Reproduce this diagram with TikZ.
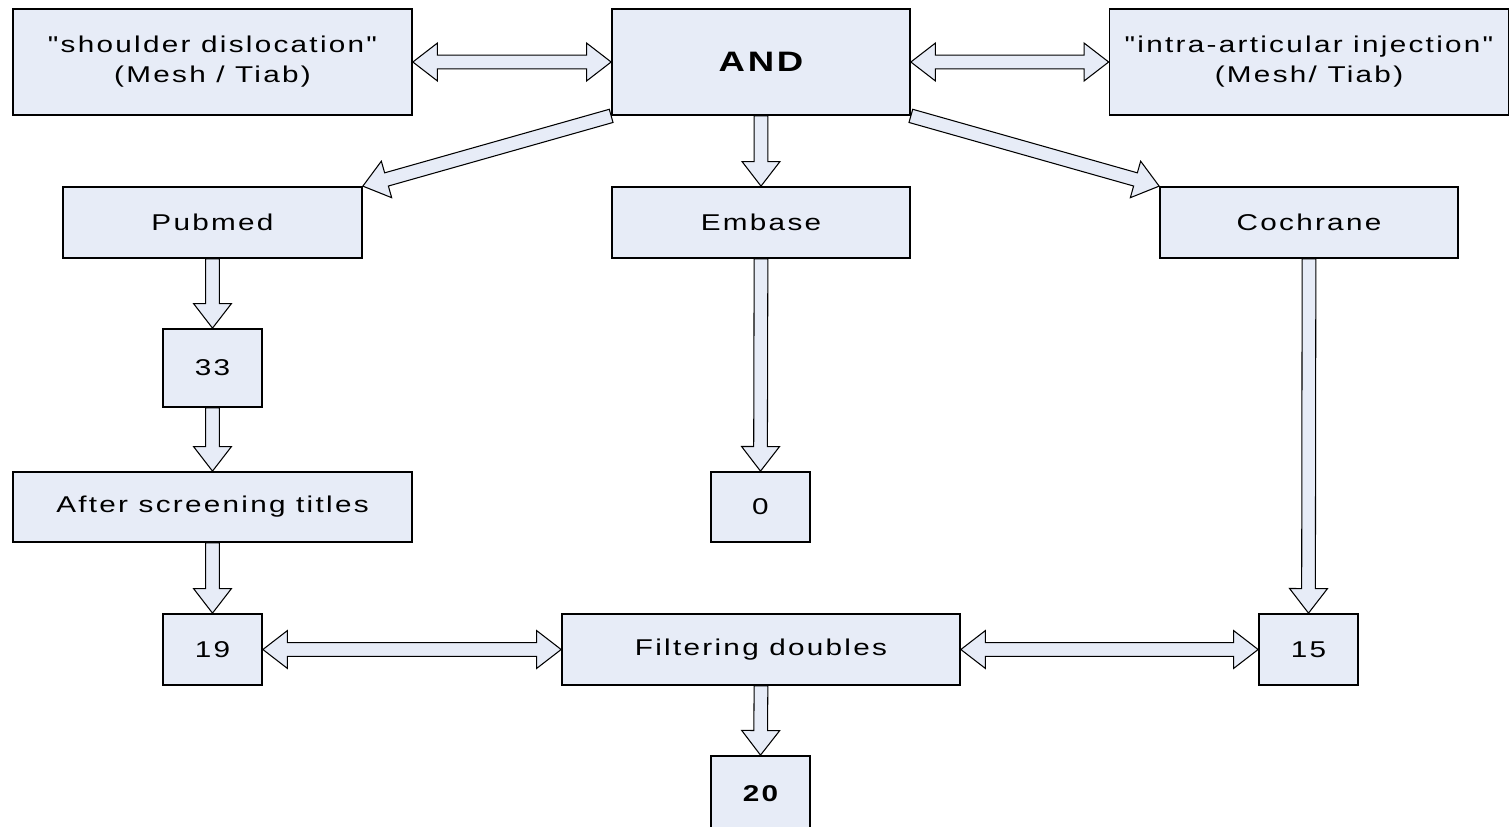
\documentclass[tikz,border=0pt]{standalone}
\usepackage{fontspec}
\setmainfont{Liberation Sans}[FakeStretch=1.3,LetterSpace=10,Ligatures=TeXOff]
\usetikzlibrary{calc,backgrounds}
\definecolor{boxfill}{RGB}{231,236,247}

\newcommand{\shaftw}{3.9pt}
\newcommand{\headw}{10.8pt}
\newcommand{\headl}{14pt}

% hollow block arrow from #1 to #2
\newcommand{\hollowarrow}[2]{%
  \coordinate (ha) at (#1);
  \coordinate (hb) at (#2);
  \coordinate (hh) at ($(hb)!\headl!(ha)$);
  \draw[arrowbody] ($(ha)!\shaftw!90:(hb)$) -- ($(hh)!\shaftw!90:(hb)$)
    -- ($(hh)!\headw!90:(hb)$) -- (hb) -- ($(hh)!\headw!-90:(hb)$)
    -- ($(hh)!\shaftw!-90:(hb)$) -- ($(ha)!\shaftw!-90:(hb)$) -- cycle;
}
% hollow block arrow with heads at both ends
\newcommand{\hollowboth}[2]{%
  \coordinate (ha) at (#1);
  \coordinate (hb) at (#2);
  \coordinate (hg) at ($(ha)!\headl!(hb)$);
  \coordinate (hh) at ($(hb)!\headl!(ha)$);
  \draw[arrowbody] (ha) -- ($(hg)!\headw!90:(hb)$) -- ($(hg)!\shaftw!90:(hb)$)
    -- ($(hh)!\shaftw!90:(hb)$) -- ($(hh)!\headw!90:(hb)$) -- (hb)
    -- ($(hh)!\headw!-90:(hb)$) -- ($(hh)!\shaftw!-90:(hb)$)
    -- ($(hg)!\shaftw!-90:(hb)$) -- ($(hg)!\headw!-90:(hb)$) -- cycle;
}

\tikzset{
  box/.style={draw, line width=1pt, fill=boxfill, inner sep=0pt, align=center,
    font=\fontsize{13}{17}\selectfont},
  arrowbody/.style={draw, fill=boxfill, line width=0.6pt, line join=miter},
}

\begin{document}
\begin{tikzpicture}[x=0.02cm,y=-0.02cm]
  \clip (0,0) rectangle (1509,826);
  % search terms
  \node[box, minimum width=7.98cm, minimum height=2.12cm] (shoulder) at (212.5,62)
    {"shoulder dislocation"\\(Mesh / Tiab)};
  \node[box, minimum width=5.96cm, minimum height=2.12cm,
    font=\fontsize{16}{19}\selectfont\bfseries] (and) at (761,62) {AND};
  \node[box, minimum width=7.98cm, minimum height=2.12cm] (intra) at (1309,62)
    {"intra-articular injection"\\(Mesh/ Tiab)};
  % databases
  \node[box, minimum width=5.98cm, minimum height=1.42cm] (pubmed) at (212.5,222.5) {Pubmed};
  \node[box, minimum width=5.96cm, minimum height=1.42cm] (embase) at (761,222.5) {Embase};
  \node[box, minimum width=5.96cm, minimum height=1.42cm] (cochrane) at (1309,222.5) {Cochrane};
  % results
  \node[box, minimum width=1.98cm, minimum height=1.56cm] (n33) at (212.5,368) {33};
  \node[box, minimum width=7.98cm, minimum height=1.4cm] (screen) at (212.5,507)
    {After screening titles};
  \node[box, minimum width=1.98cm, minimum height=1.4cm] (zero) at (760.5,507) {0};
  \node[box, minimum width=1.98cm, minimum height=1.42cm] (n19) at (212.5,649.5) {19};
  \node[box, minimum width=7.96cm, minimum height=1.42cm] (filter) at (761,649.5)
    {Filtering doubles};
  \node[box, minimum width=1.98cm, minimum height=1.42cm] (n15) at (1308.5,649.5) {15};
  \node[box, minimum width=1.98cm, minimum height=1.5cm,
    font=\fontsize{13}{17}\selectfont\bfseries] (n20) at (760.5,793.5) {20};

  \begin{scope}[on background layer]
    \hollowboth{shoulder.east}{and.west}
    \hollowboth{and.east}{intra.west}
    \hollowarrow{and.south west}{pubmed.north east}
    \hollowarrow{and.south}{embase.north}
    \hollowarrow{and.south east}{cochrane.north west}
    \hollowarrow{pubmed.south}{n33.north}
    \hollowarrow{n33.south}{screen.north}
    \hollowarrow{screen.south}{n19.north}
    \hollowarrow{embase.south}{zero.north}
    \hollowarrow{cochrane.south}{n15.north}
    \hollowboth{n19.east}{filter.west}
    \hollowboth{filter.east}{n15.west}
    \hollowarrow{filter.south}{n20.north}
  \end{scope}
\end{tikzpicture}
\end{document}
